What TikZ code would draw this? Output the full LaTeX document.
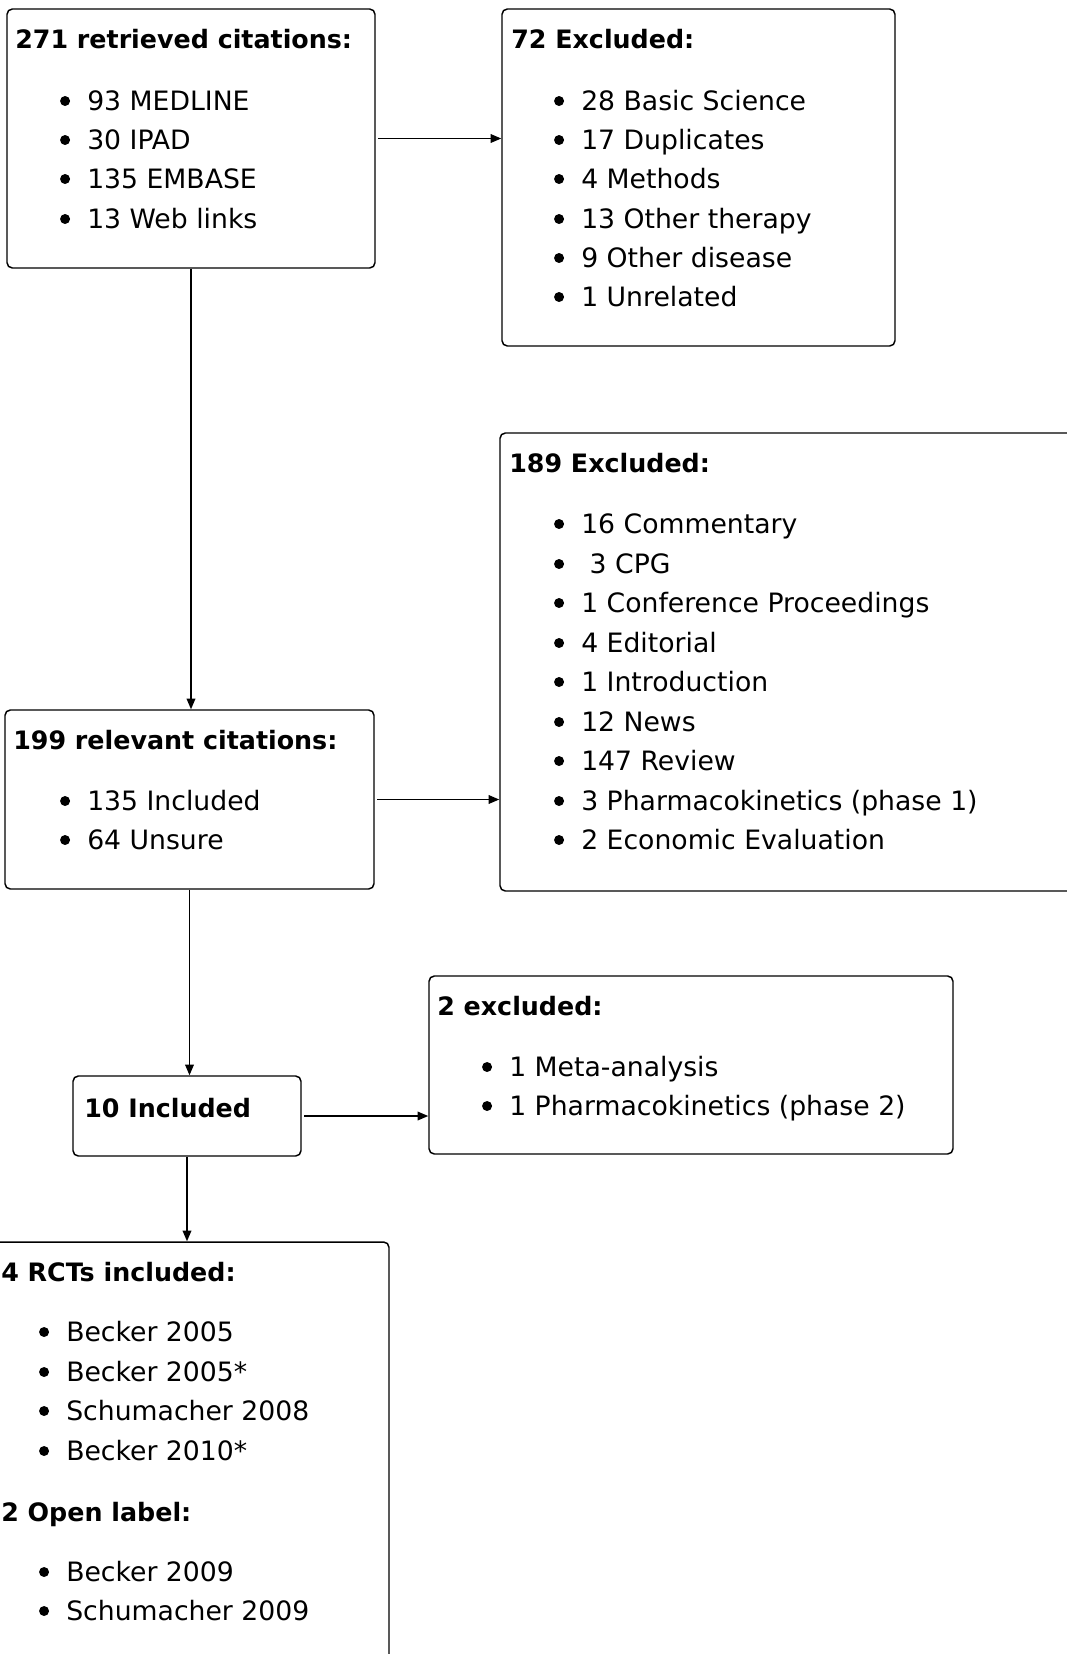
\documentclass[tikz,border=0pt]{standalone}
\usepackage{fontspec}
\setmainfont{DejaVu Sans}
\usepackage{tikz}
\usetikzlibrary{arrows.meta}
\tikzset{
	>={Triangle[length=8pt, width=6.5pt]},
	% riquadro del diagramma di flusso
	riquadro/.style={draw, line width=1.1pt, rectangle, rounded corners=4pt, inner sep=0pt},
	% intestazione di un riquadro
	titolo/.style={anchor=base west, inner sep=0pt, font=\fontsize{19}{23}\selectfont\bfseries},
	% pallino dell'elenco
	punto/.style={circle, fill, inner sep=0pt, minimum size=7.5pt},
	% voce di elenco
	voce/.style={anchor=base west, inner sep=0pt, text height=13.5pt, text depth=0pt,
	             font=\fontsize{20}{24}\selectfont,
	             label={[punto, label distance=12.5pt]left:{}}},
	% freccia di collegamento
	freccia/.style={->, line width=1.1pt},
}

\begin{document}
\begin{tikzpicture}[x=0.75pt, y=-0.75pt]
    \useasboundingbox (0,0) rectangle (1067,1654);

    % ---------------- citazioni recuperate ----------------
    \node[riquadro, minimum width=276pt, minimum height=194.25pt] (ret) at (191,138.5) {};
    \node[titolo] (rettit) at (15,48) {271 retrieved citations:};
    \node[voce] (ret1) at (87,110) {93 MEDLINE};
    \node[voce] (ret2) at (87,149) {30 IPAD};
    \node[voce] (ret3) at (87,188) {135 EMBASE};
    \node[voce] (ret4) at (87,228) {13 Web links};

    % ---------------- primi esclusi ----------------
    \node[riquadro, minimum width=294.75pt, minimum height=252.75pt] (esc1) at (698.5,177.5) {};
    \node[titolo] (esc1tit) at (511,48) {72 Excluded:};
    \node[voce] (esc11) at (581,110) {28 Basic Science};
    \node[voce] (esc12) at (581,149) {17 Duplicates};
    \node[voce] (esc13) at (581,188) {4 Methods};
    \node[voce] (esc14) at (581,228) {13 Other therapy};
    \node[voce] (esc15) at (581,267) {9 Other disease};
    \node[voce] (esc16) at (581,306) {1 Unrelated};

    % ---------------- secondi esclusi ----------------
    \node[riquadro, minimum width=435pt, minimum height=343.5pt] (esc2) at (790,662) {};
    \node[titolo] (esc2tit) at (509,472) {189 Excluded:};
    \node[voce] (esc21) at (581,533) {16 Commentary};
    \node[voce] (esc22) at (581,573) {\ 3 CPG};
    \node[voce] (esc23) at (581,612) {1 Conference Proceedings};
    \node[voce] (esc24) at (581,652) {4 Editorial};
    \node[voce] (esc25) at (581,691) {1 Introduction};
    \node[voce] (esc26) at (581,731) {12 News};
    \node[voce] (esc27) at (581,770) {147 Review};
    \node[voce] (esc28) at (581,810) {3 Pharmacokinetics (phase 1)};
    \node[voce] (esc29) at (581,849) {2 Economic Evaluation};

    % ---------------- citazioni rilevanti ----------------
    \node[riquadro, minimum width=276.75pt, minimum height=134.25pt] (rel) at (189.5,799.5) {};
    \node[titolo] (reltit) at (13,749) {199 relevant citations:};
    \node[voce] (rel1) at (87,810) {135 Included};
    \node[voce] (rel2) at (87,849) {64 Unsure};

    % ---------------- inclusi ----------------
    \node[riquadro, minimum width=171pt, minimum height=60pt] (incl) at (187,1116) {};
    \node[titolo] (incltit) at (84,1117) {10 Included};

    % ---------------- terzi esclusi ----------------
    \node[riquadro, minimum width=393pt, minimum height=133.5pt] (esc3) at (691,1065) {};
    \node[titolo] (esc3tit) at (437,1015) {2 excluded:};
    \node[voce] (esc31) at (509,1076) {1 Meta-analysis};
    \node[voce] (esc32) at (509,1115) {1 Pharmacokinetics (phase 2)};

    % ---------------- studi inclusi ----------------
    \node[riquadro, minimum width=303pt, minimum height=321pt] (rct) at (187,1456) {};
    \node[titolo] (rcttit) at (1,1281) {4 RCTs included:};
    \node[voce] (rct1) at (66,1341) {Becker 2005};
    \node[voce] (rct2) at (66,1381) {Becker 2005*};
    \node[voce] (rct3) at (66,1420) {Schumacher 2008};
    \node[voce] (rct4) at (66,1460) {Becker 2010*};
    \node[titolo] (opentit) at (1,1521) {2 Open label:};
    \node[voce] (open1) at (66,1581) {Becker 2009};
    \node[voce] (open2) at (66,1620) {Schumacher 2009};

    % ---------------- collegamenti ----------------
    \draw[freccia, shorten <=2pt] (ret.east) -- (ret.east -| esc1.west);
    \draw[freccia] (ret.south) -- (ret.south |- rel.north);
    \draw[freccia, shorten <=2pt] (rel.east) -- (rel.east -| esc2.west);
    \draw[freccia] (rel.south) -- (rel.south |- incl.north);
    \draw[freccia, shorten <=2pt] (incl.east) -- (incl.east -| esc3.west);
    \draw[freccia] (incl.south) -- (incl.south |- rct.north);
  \end{tikzpicture}
\end{document}
